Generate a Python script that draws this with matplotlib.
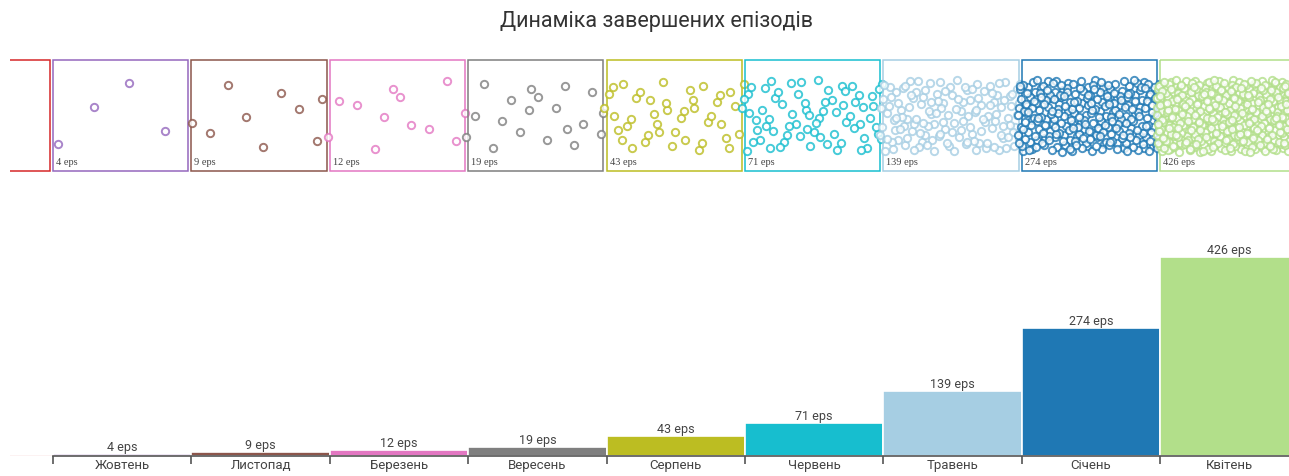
import numpy as np
import matplotlib
matplotlib.use("Agg")
import matplotlib.pyplot as plt
from matplotlib.patches import Rectangle

# months, oldest first; the first one is only partly on screen
months = ["", "Жовтень", "Листопад", "Березень", "Вересень", "Серпень",
          "Червень", "Травень", "Січень", "Квітень"]
episodes = [0, 4, 9, 12, 19, 43, 71, 139, 274, 426]
colors = ["#d62728", "#9467bd", "#8c564b", "#e377c2", "#7f7f7f", "#bcbd22",
          "#17becf", "#a6cee3", "#1f78b4", "#b2df8a"]

W, H = 1289, 476
X0 = -1  # category index of the first (clipped) month
XLIM = (-0.31 + 1 + X0, 8.93 + 1 + X0)


def radical_inverse(k, base):
    f, r = 1.0, 0.0
    while k > 0:
        f /= base
        r += f * (k % base)
        k //= base
    return r


def halton(n, base, skip):
    return np.array([radical_inverse(k + skip, base) for k in range(n)])


fig = plt.figure(figsize=(W / 100, H / 100), dpi=100)
fig.text(657 / W, 1 - 22 / H, "Динаміка завершених епізодів", ha="center", va="center",
         fontsize=15.5, color="#333333", family=["Roboto", "DejaVu Sans"])

# --- top strip: one box per month filled with a dot per episode ---
top = fig.add_axes([10 / W, 1 - 180 / H, 1279 / W, 130 / H])
top.set_xlim(XLIM[0] - 1 - X0, XLIM[1] - 1 - X0)
top.set_ylim(180, 50)  # pixel-like units, downward
top.axis("off")

px = 138.4  # pixels per category
for i, (n, c) in enumerate(zip(episodes, colors)):
    x = i + X0
    top.add_patch(Rectangle((x, 60), 0.977, 111, fill=False, edgecolor=c, lw=1.1))
    if not n:
        continue
    top.text(x + 3 / px, 162, f"{n} eps", ha="left", va="center", fontsize=7.5,
             color="#444444", family="Liberation Serif")
    hx = halton(n, 2, 7 * i + 1)
    hy = halton(n, 3, 7 * i + 1)
    xs = x - 4 / px + hx * (0.977 + 8 / px)
    ys = 80 + hy * 72
    top.scatter(xs, ys, s=28, facecolors=(1, 1, 1, 0.4), edgecolors=c,
                linewidths=1.4, alpha=0.8, clip_on=False)

# --- bottom: bar chart of episode counts ---
ax = fig.add_axes([10 / W, 20 / H, 1279 / W, 226 / H])
ax.set_xlim(XLIM[0] - 1 - X0, XLIM[1] - 1 - X0)
ax.set_ylim(0, 484)
pos = np.arange(len(months)) + X0
ax.bar(pos, episodes, width=1, align="edge", color=colors, edgecolor="white", lw=1.2)
ax.hlines(0, X0, X0 + 1, color=colors[0], alpha=0.3, lw=1)
for p, n in zip(pos[1:], episodes[1:]):
    ax.text(p + 0.5, n, f"{n} eps", ha="center", va="bottom", fontsize=9,
            color="#444444", family=["Roboto", "DejaVu Sans"])

for s in ["top", "right", "left"]:
    ax.spines[s].set_visible(False)
ax.spines["bottom"].set_bounds(0, len(months) + X0)
ax.spines["bottom"].set_color("#555555")
ax.spines["bottom"].set_linewidth(1.2)
ax.set_yticks([])
ax.set_xticks(np.arange(0, len(months) + X0))
ax.set_xticklabels([])
ax.tick_params(axis="x", which="major", length=6, width=1.2, color="#555555")
ax.set_xticks(pos[1:] + 0.5, minor=True)
ax.set_xticklabels(months[1:], minor=True, fontsize=9.5, color="#444444",
                   family=["Roboto", "DejaVu Sans"])
ax.tick_params(axis="x", which="minor", length=0, pad=2)

fig.savefig("out.png", dpi=100)
